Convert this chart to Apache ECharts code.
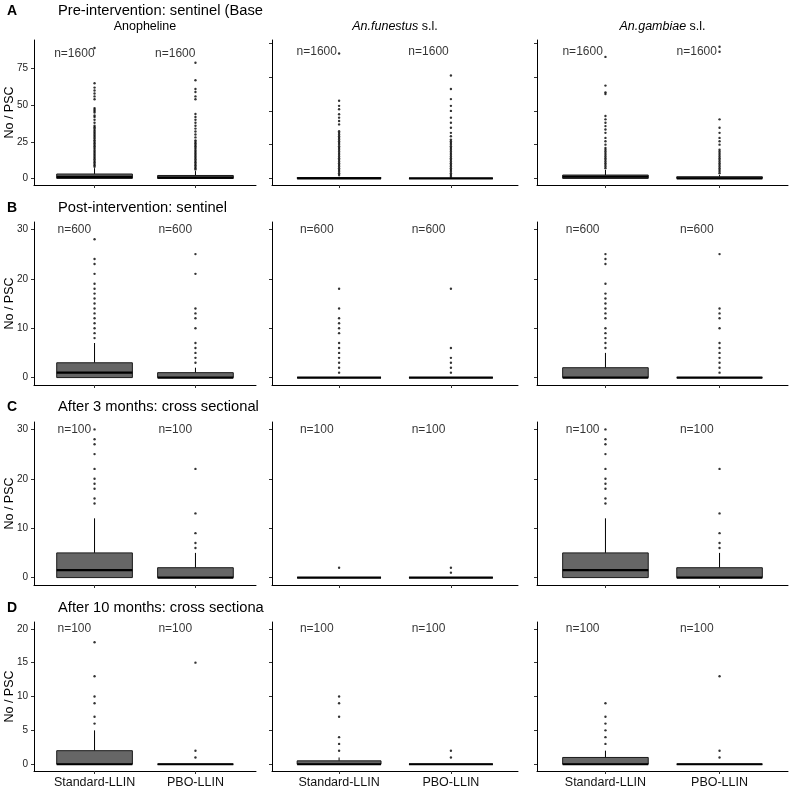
<!DOCTYPE html>
<html lang="en">
<head>
<meta charset="UTF-8">
<title>No / PSC by net type</title>
<script src="https://cdn.jsdelivr.net/npm/echarts@6/dist/echarts.min.js"></script>
<style>
  html, body { margin: 0; padding: 0; background: #fff; }
  #main { width: 791px; height: 788px; }
</style>
</head>
<body>
<div id="main"></div>
<script>
var categories = ['Standard-LLIN', 'PBO-LLIN'];
var letters = ['A', 'B', 'C', 'D'];
var rowTitles = ['Pre-intervention: sentinel (Baseline)', 'Post-intervention: sentinel',
  'After 3 months: cross sectional', 'After 10 months: cross sectional'];
// [italic part, plain part]
var colTitles = [['', 'Anopheline'], ['An.funestus', ' s.l.'], ['An.gambiae', ' s.l.']];
var sampleSizes = ['n=1600', 'n=600', 'n=100', 'n=100'];

var yTicksA1 = [0, 25, 50, 75];
var yTicksA = [0, 20, 40, 60, 80];
var yTicksB = [0, 10, 20, 30];
var yTicksC = [0, 10, 20, 30];
var yTicksD = [0, 5, 10, 15, 20];

// box stats per panel (Anopheline, funestus, gambiae), per net:
// [lower whisker, Q1, median, Q3, upper whisker]
var boxesA = [[[0, 0, 1, 3, 7], [0, 0, 0.5, 2, 5]], [[0, 0, 0, 0.5, 1], [0, 0, 0, 0, 0]], [[0, 0, 1, 2, 5], [0, 0, 0, 1, 2]]];
var boxesB = [[[0, 0, 1, 3, 7], [0, 0, 0, 1, 2]], [[0, 0, 0, 0, 0], [0, 0, 0, 0, 0]], [[0, 0, 0, 2, 5], [0, 0, 0, 0, 0]]];
var boxesC = [[[0, 0, 1.5, 5, 12], [0, 0, 0, 2, 5]], [[0, 0, 0, 0, 0], [0, 0, 0, 0, 0]], [[0, 0, 1.5, 5, 12], [0, 0, 0, 2, 5]]];
var boxesD = [[[0, 0, 0, 2, 5], [0, 0, 0, 0, 0]], [[0, 0, 0, 0.5, 1], [0, 0, 0, 0, 0]], [[0, 0, 0, 1, 2], [0, 0, 0, 0, 0]]];

// outliers per panel, per net
var outliersA = [
  [[8, 9, 10, 11, 12, 13, 14, 15, 16, 17, 18, 19, 20, 21, 22, 23, 24, 25, 26, 27, 28, 29, 30, 31, 32, 33, 34, 35, 36, 38, 40, 42, 43, 45, 46, 47, 48, 54, 56, 58, 60, 62, 65, 89],
   [6, 7, 8, 9, 10, 11, 12, 13, 14, 15, 16, 17, 18, 19, 20, 21, 22, 23, 24, 25, 26, 28, 30, 32, 34, 36, 38, 40, 42, 44, 54, 56, 59, 61, 67, 79]],
  [[2, 3, 4, 5, 6, 7, 8, 9, 10, 11, 12, 13, 14, 15, 16, 17, 18, 19, 20, 21, 22, 23, 24, 25, 26, 27, 28, 32, 34, 36, 38, 41, 43, 46, 74],
   [1, 2, 3, 4, 5, 6, 7, 8, 9, 10, 11, 12, 13, 14, 15, 16, 17, 18, 19, 20, 21, 22, 23, 25, 27, 30, 33, 36, 40, 43, 47, 53, 61]],
  [[6, 7, 8, 9, 10, 11, 12, 13, 14, 15, 16, 17, 18, 20, 22, 24, 27, 29, 31, 33, 35, 37, 50, 51, 55, 72],
   [3, 4, 5, 6, 7, 8, 9, 10, 11, 12, 13, 14, 15, 16, 17, 20, 22, 24, 27, 30, 35, 75, 78]]
];
var outliersB = [
  [[8, 9, 10, 11, 12, 13, 14, 15, 16, 17, 18, 19, 21, 23, 24, 28], [3, 4, 5, 6, 7, 10, 12, 13, 14, 21, 25]],
  [[1, 2, 3, 4, 5, 6, 7, 9, 10, 11, 12, 14, 18], [1, 2, 3, 4, 6, 18]],
  [[6, 7, 8, 9, 10, 12, 13, 14, 15, 16, 17, 19, 23, 24, 25], [1, 2, 3, 4, 5, 6, 7, 10, 12, 13, 14, 25]]
];
var outliersC = [
  [[15, 16, 18, 19, 20, 22, 25, 27, 28, 30], [6, 7, 9, 13, 22]],
  [[2], [1, 2]],
  [[15, 16, 18, 19, 20, 22, 25, 27, 28, 30], [6, 7, 9, 13, 22]]
];
var outliersD = [
  [[6, 7, 9, 10, 13, 18], [1, 2, 15]],
  [[2, 3, 4, 7, 9, 10], [1, 2]],
  [[3, 4, 5, 6, 7, 9], [1, 2, 13]]
];

var boxes = [boxesA, boxesB, boxesC, boxesD];
var outliers = [outliersA, outliersB, outliersC, outliersD];

// layout
var FONT = 'Liberation Sans, Arial, Helvetica, sans-serif';
var colLeft = [34, 272, 537], colWidth = [222, 246, 251];
var rowTop = [40, 222, 422, 622], rowHeight = [145, 163, 163, 149];
var titleY = [11, 208, 407, 608];
var yRanges = [
  [[-4.5, 94.5], [-3.9, 82], [-3.9, 82]],
  [[-1.5, 31.5], [-1.5, 31.5], [-1.5, 31.5]],
  [[-1.5, 31.5], [-1.5, 31.5], [-1.5, 31.5]],
  [[-1, 21], [-1, 21], [-1, 21]]
];
var labelY = [[85, 75, 75], [30, 30, 30], [30, 30, 30], [20, 20, 20]];
function ticksFor(r, c) {
  if (r === 0) return c === 0 ? yTicksA1 : yTicksA;
  return [null, yTicksB, yTicksC, yTicksD][r];
}

function renderBox(params, api) {
  var x = api.value(0);
  var lo = api.coord([x, api.value(1)]);
  var q1 = api.coord([x, api.value(2)]);
  var med = api.coord([x, api.value(3)]);
  var q3 = api.coord([x, api.value(4)]);
  var hi = api.coord([x, api.value(5)]);
  var w = api.size([0.75, 0])[0];
  var left = q1[0] - w / 2;
  var kids = [];
  kids.push({ type: 'line', shape: { x1: q3[0], y1: q3[1], x2: hi[0], y2: hi[1] }, style: { stroke: '#000', lineWidth: 1 } });
  kids.push({ type: 'line', shape: { x1: lo[0], y1: lo[1], x2: q1[0], y2: q1[1] }, style: { stroke: '#000', lineWidth: 1 } });
  kids.push({ type: 'rect', shape: { x: left, y: q3[1], width: w, height: q1[1] - q3[1] }, style: { fill: '#666666', stroke: '#1a1a1a', lineWidth: 1 } });
  kids.push({ type: 'line', shape: { x1: left, y1: med[1], x2: left + w, y2: med[1] }, style: { stroke: '#000', lineWidth: 2.2 } });
  return { type: 'group', children: kids };
}

var grids = [], xAxes = [], yAxes = [], series = [], graphics = [];
for (var r = 0; r < 4; r++) {
  graphics.push({ type: 'text', x: 7, y: titleY[r], style: { text: letters[r], fontFamily: FONT, fontSize: 14, fontWeight: 'bold', fill: '#000', textVerticalAlign: 'middle' } });
  graphics.push({ type: 'text', x: 58, y: titleY[r], style: { text: rowTitles[r], fontFamily: FONT, fontSize: 14.7, fill: '#000', textVerticalAlign: 'middle', width: 209, overflow: 'truncate', ellipsis: '' } });
  for (var c = 0; c < 3; c++) {
    var idx = r * 3 + c;
    var ticks = ticksFor(r, c);
    grids.push({ left: colLeft[c], top: rowTop[r], width: colWidth[c], height: rowHeight[r], containLabel: false, outerBoundsMode: 'none' });
    xAxes.push({
      gridIndex: idx, type: 'value', min: 0.4, max: 2.6,
      axisLine: { show: true, onZero: false, lineStyle: { color: '#000', width: 1 } },
      axisTick: { show: true, length: 3, customValues: [1, 2], lineStyle: { color: '#333' } },
      axisLabel: { show: r === 3, customValues: [1, 2], margin: 5, color: '#111', fontSize: 12.5, fontFamily: FONT,
        formatter: function (v) { return categories[Math.round(v) - 1]; } },
      splitLine: { show: false }
    });
    yAxes.push({
      gridIndex: idx, type: 'value', min: yRanges[r][c][0], max: yRanges[r][c][1],
      name: c === 0 ? 'No / PSC' : '', nameLocation: 'middle', nameRotate: 90, nameGap: 18,
      nameMoveOverlap: false,
      nameTextStyle: { fontSize: 12.5, color: '#000', fontFamily: FONT },
      axisLine: { show: true, onZero: false, lineStyle: { color: '#000', width: 1 } },
      axisTick: { show: true, length: 3, customValues: ticks, lineStyle: { color: '#333' } },
      axisLabel: { show: c === 0, customValues: ticks, margin: 6, color: '#222', fontSize: 10, fontFamily: FONT },
      splitLine: { show: false }
    });
    var b = boxes[r][c];
    series.push({
      type: 'custom', xAxisIndex: idx, yAxisIndex: idx, renderItem: renderBox, silent: true,
      encode: { x: 0, y: [1, 2, 3, 4, 5] },
      data: [[1].concat(b[0]), [2].concat(b[1])]
    });
    var pts = [];
    for (var k = 0; k < 2; k++) {
      outliers[r][c][k].forEach(function (v) { pts.push([k + 1, v]); });
    }
    series.push({
      type: 'scatter', xAxisIndex: idx, yAxisIndex: idx, silent: true,
      symbol: 'circle', symbolSize: 2.4, itemStyle: { color: '#000' }, data: pts
    });
    series.push({
      type: 'scatter', xAxisIndex: idx, yAxisIndex: idx, silent: true,
      symbolSize: 1, itemStyle: { color: 'rgba(0,0,0,0)' },
      label: { show: true, position: 'inside', formatter: function (p) { return p.value[2]; },
        fontSize: 12, color: '#000', fontFamily: FONT },
      data: [[0.8, labelY[r][c], sampleSizes[r]], [1.8, labelY[r][c], sampleSizes[r]]]
    });
    if (r === 0) {
      var t = colTitles[c];
      graphics.push({ type: 'text', x: colLeft[c] + colWidth[c] / 2, y: 27, style: {
        text: (t[0] ? '{i|' + t[0] + '}' : '') + '{n|' + t[1] + '}',
        rich: { i: { fontStyle: 'italic', fontSize: 12.5, fontFamily: FONT, fill: '#000' }, n: { fontSize: 12.5, fontFamily: FONT, fill: '#000' } },
        textAlign: 'center', textVerticalAlign: 'middle' } });
    }
  }
}

var chart = echarts.init(document.getElementById('main'));
chart.setOption({
  animation: false,
  backgroundColor: '#fff',
  textStyle: { fontFamily: FONT },
  grid: grids,
  xAxis: xAxes,
  yAxis: yAxes,
  series: series,
  graphic: graphics
});
</script>
</body>
</html>
